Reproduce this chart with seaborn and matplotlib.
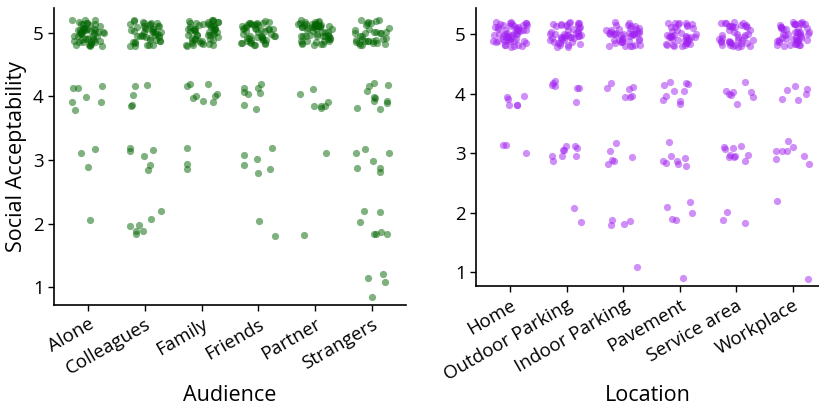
import numpy as np
import pandas as pd
import matplotlib
matplotlib.use("Agg")
import matplotlib.pyplot as plt
import seaborn as sns

# rating levels and how many answers fell on each level (1..5)
levels = [1, 2, 3, 4, 5]

audiences = ["Alone", "Colleagues", "Family", "Friends", "Partner", "Strangers"]
audience_counts = [
    [0, 1, 3, 7, 53],   # Alone
    [0, 7, 6, 5, 46],   # Colleagues
    [0, 0, 3, 9, 52],   # Family
    [0, 2, 6, 8, 48],   # Friends
    [0, 1, 1, 7, 55],   # Partner
    [4, 7, 7, 11, 35],  # Strangers
]

locations = ["Home", "Outdoor Parking", "Indoor Parking", "Pavement", "Service area", "Workplace"]
location_counts = [
    [0, 0, 3, 6, 55],   # Home
    [0, 2, 9, 7, 46],   # Outdoor Parking
    [1, 4, 6, 7, 46],   # Indoor Parking
    [1, 5, 8, 10, 40],  # Pavement
    [0, 3, 10, 8, 43],  # Service area
    [1, 1, 8, 6, 48],   # Workplace
]

y_label = "Social Acceptability"


def build_frame(cats, counts, col, seed):
    rows = []
    for cat, cnt in zip(cats, counts):
        for lvl, n in zip(levels, cnt):
            rows += [(cat, lvl)] * n
    df = pd.DataFrame(rows, columns=[col, "rating"])
    # vertical jitter like geom_jitter (display only, the ratings stay integers)
    rng = np.random.default_rng(seed)
    df["shown"] = df["rating"] + rng.uniform(-0.21, 0.21, len(df))
    return df


df_aud = build_frame(audiences, audience_counts, "Audience", 7)
df_loc = build_frame(locations, location_counts, "Location", 5)

sns.set_theme(style="ticks")
plt.rcParams["font.family"] = ["Open Sans", "DejaVu Sans"]

fig = plt.figure(figsize=(8.2, 4.09), dpi=100)
ax1 = fig.add_axes([0.0659, 0.2543, 0.4293, 0.7262])
ax2 = fig.add_axes([0.5805, 0.3007, 0.4195, 0.6797])

np.random.seed(3)
sns.stripplot(data=df_aud, x="Audience", y="shown", order=audiences, jitter=0.3,
              color="#006400", alpha=0.5, size=5.2, linewidth=0, ax=ax1)
sns.stripplot(data=df_loc, x="Location", y="shown", order=locations, jitter=0.3,
              color="#A020F0", alpha=0.5, size=5.2, linewidth=0, ax=ax2)

ax1.set_xlim(-0.6, 5.6)
ax1.set_ylim(0.72, 5.39)
ax2.set_xlim(-0.6, 5.48)
ax2.set_ylim(0.765, 5.44)

ax1.set_ylabel(y_label, fontsize=15.5, color="black")
ax2.set_ylabel("")
ax1.set_xlabel("Audience", fontsize=15.5, color="black")
ax2.set_xlabel("Location", fontsize=15.5, color="black")

# both x titles sit on the same baseline near the bottom of the figure
for ax in (ax1, ax2):
    box = ax.get_position()
    ax.xaxis.set_label_coords(box.x0 + box.width / 2, 0.058, transform=fig.transFigure)

for ax in (ax1, ax2):
    ax.set_yticks(levels)
    ax.tick_params(axis="both", labelsize=13.5, colors="black", length=4, width=1)
    for lab in ax.get_xticklabels():
        lab.set_rotation(30)
        lab.set_ha("right")
        lab.set_rotation_mode("anchor")
    sns.despine(ax=ax)
    for s in ("left", "bottom"):
        ax.spines[s].set_linewidth(1.2)
        ax.spines[s].set_color("black")

fig.savefig("out.png", dpi=100)
